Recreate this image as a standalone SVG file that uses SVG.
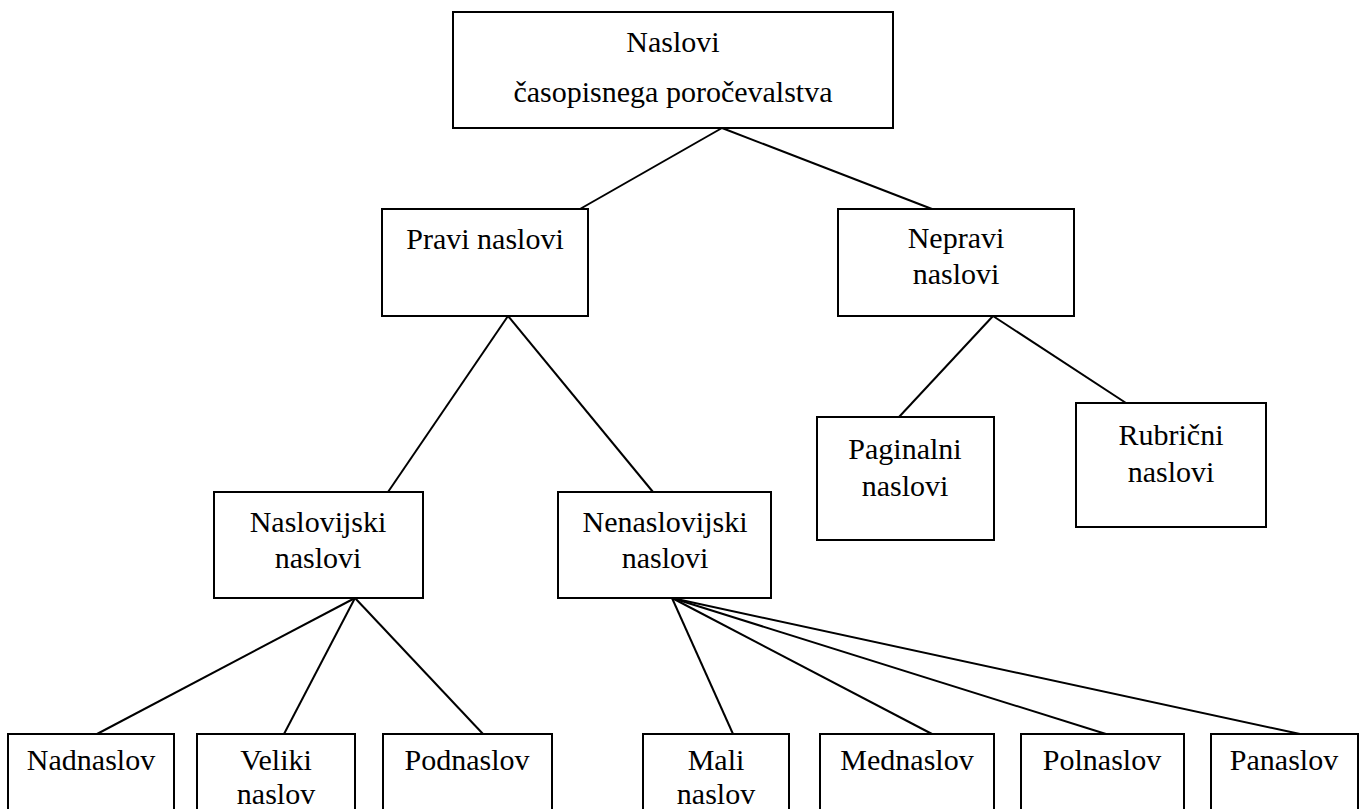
<svg xmlns="http://www.w3.org/2000/svg" width="1362" height="809" viewBox="0 0 1362 809">
<style>
rect{fill:#fff;stroke:#000;stroke-width:2}
text{font-family:"Liberation Serif","Times New Roman",serif;font-size:30px;fill:#000;text-anchor:middle}
.c line{stroke:#000;stroke-width:2}
</style>
<rect x="0" y="0" width="1362" height="809" style="stroke:none"/>
<g class="c" id="connectors">
<line x1="722" y1="128" x2="580" y2="209"/>
<line x1="722" y1="128" x2="932" y2="209"/>
<line x1="508" y1="316" x2="388" y2="492"/>
<line x1="508" y1="316" x2="653" y2="492"/>
<line x1="993" y1="316" x2="899" y2="417"/>
<line x1="993" y1="316" x2="1126" y2="403"/>
<line x1="355" y1="598" x2="97" y2="734"/>
<line x1="355" y1="598" x2="284" y2="734"/>
<line x1="355" y1="598" x2="483" y2="734"/>
<line x1="672" y1="598" x2="733" y2="734"/>
<line x1="672" y1="598" x2="932" y2="734"/>
<line x1="672" y1="598" x2="1106" y2="734"/>
<line x1="672" y1="598" x2="1300" y2="734"/>
</g>
<g id="n-root"><rect x="453" y="12" width="440" height="116"/><text x="673" y="52">Naslovi</text><text x="673" y="102">časopisnega poročevalstva</text></g>
<g id="n-pravi"><rect x="382" y="209" width="206" height="107"/><text x="485" y="249">Pravi naslovi</text></g>
<g id="n-nepravi"><rect x="838" y="209" width="236" height="107"/><text x="956" y="248">Nepravi</text><text x="956" y="284">naslovi</text></g>
<g id="n-paginalni"><rect x="817" y="417" width="177" height="123"/><text x="905" y="459">Paginalni</text><text x="905" y="496">naslovi</text></g>
<g id="n-rubricni"><rect x="1076" y="403" width="190" height="124"/><text x="1171" y="445">Rubrični</text><text x="1171" y="482">naslovi</text></g>
<g id="n-naslovijski"><rect x="214" y="492" width="209" height="106"/><text x="318" y="532">Naslovijski</text><text x="318" y="568">naslovi</text></g>
<g id="n-nenaslovijski"><rect x="558" y="492" width="213" height="106"/><text x="665" y="532">Nenaslovijski</text><text x="665" y="568">naslovi</text></g>
<g id="n-nadnaslov"><rect x="8" y="734" width="166" height="100"/><text x="91" y="770">Nadnaslov</text></g>
<g id="n-veliki"><rect x="197" y="734" width="158" height="100"/><text x="276" y="770">Veliki</text><text x="276" y="804">naslov</text></g>
<g id="n-podnaslov"><rect x="383" y="734" width="169" height="100"/><text x="467" y="770">Podnaslov</text></g>
<g id="n-mali"><rect x="643" y="734" width="146" height="100"/><text x="716" y="770">Mali</text><text x="716" y="804">naslov</text></g>
<g id="n-mednaslov"><rect x="820" y="734" width="174" height="100"/><text x="907" y="770">Mednaslov</text></g>
<g id="n-polnaslov"><rect x="1021" y="734" width="163" height="100"/><text x="1102" y="770">Polnaslov</text></g>
<g id="n-panaslov"><rect x="1211" y="734" width="147" height="100"/><text x="1284" y="770">Panaslov</text></g>
</svg>
